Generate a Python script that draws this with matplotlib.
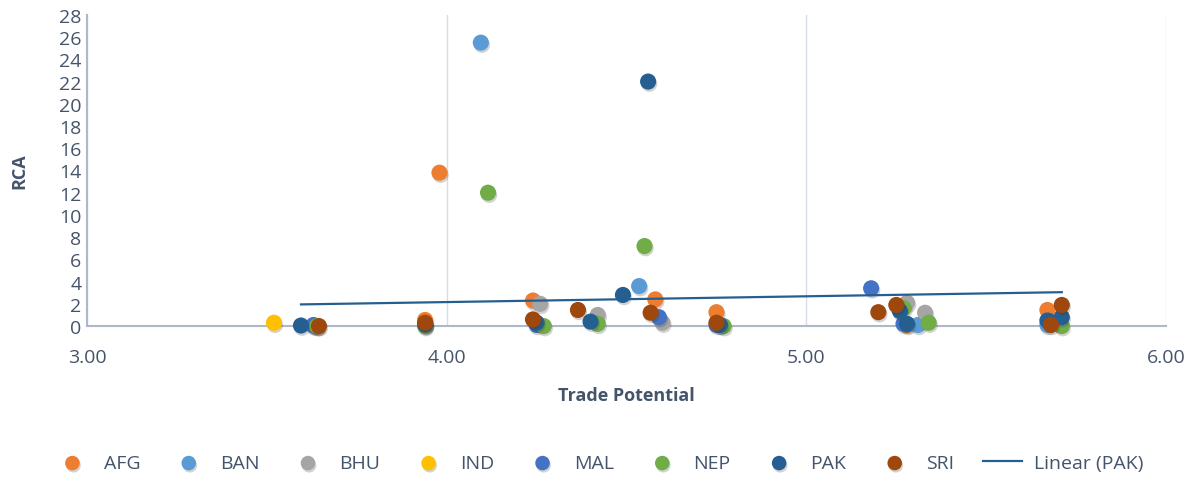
import numpy as np
import matplotlib
matplotlib.use('Agg')
import matplotlib.pyplot as plt
import matplotlib.patheffects as pe

plt.rcParams['font.family'] = ['Open Sans', 'DejaVu Sans']

# data
series = ['AFG', 'BAN', 'BHU', 'IND', 'MAL', 'NEP', 'PAK', 'SRI']
afg_x = [3.94, 3.98, 4.24, 4.58, 4.75, 5.28, 5.67]
afg_y = [0.55, 13.8, 2.3, 2.4, 1.25, 0.1, 1.45]
ban_x = [3.63, 4.095, 4.535, 5.31, 5.67]
ban_y = [0.05, 25.5, 3.6, 0.1, 0.1]
bhu_x = [3.64, 3.94, 4.26, 4.42, 4.60, 4.76, 5.28, 5.33, 5.70]
bhu_y = [0.0, 0.1, 2.0, 1.0, 0.3, 0.1, 2.1, 1.2, 0.3]
ind_x = [3.52]
ind_y = [0.3]
mal_x = [3.63, 3.94, 4.25, 4.59, 4.75, 5.18, 5.27, 5.68]
mal_y = [0.1, 0.2, 0.1, 0.8, 0.1, 3.4, 0.2, 0.4]
nep_x = [3.64, 3.94, 4.115, 4.27, 4.42, 4.55, 4.77, 5.27, 5.34, 5.71]
nep_y = [0.0, 0.0, 12.0, 0.0, 0.2, 7.2, 0.0, 1.6, 0.3, 0.0]
pak_x = [3.595, 3.94, 4.25, 4.40, 4.49, 4.56, 4.76, 5.26, 5.28, 5.67, 5.71]
pak_y = [0.05, 0.15, 0.3, 0.4, 2.8, 22.0, 0.1, 1.35, 0.2, 0.5, 0.8]
sri_x = [3.645, 3.94, 4.24, 4.365, 4.567, 4.75, 5.20, 5.25, 5.68, 5.71]
sri_y = [0.0, 0.3, 0.6, 1.45, 1.2, 0.3, 1.25, 1.9, 0.1, 1.9]

# Linear (PAK) trendline as shown on the chart
trend_slope = 0.52
trend_intercept = 0.08

colors = ['#ED7D31', '#5B9BD5', '#A5A5A5', '#FFC000',
          '#4472C4', '#70AD47', '#255E91', '#9E480E']
xs = [afg_x, ban_x, bhu_x, ind_x, mal_x, nep_x, pak_x, sri_x]
ys = [afg_y, ban_y, bhu_y, ind_y, mal_y, nep_y, pak_y, sri_y]

txt = '#44546A'
fig = plt.figure(figsize=(11.96, 4.81), dpi=100)
ax = fig.add_axes([0.0727, 0.32, 0.9023, 0.647])

shadow = [pe.SimplePatchShadow(offset=(0.8, -1.6), alpha=0.22, shadow_rgbFace='#333333'), pe.Normal()]
for name, x, y, c in zip(series, xs, ys, colors):
    ax.scatter(x, y, s=135, color=c, label=name, zorder=3, clip_on=False,
               linewidths=0, path_effects=shadow)

tx = np.array([min(pak_x), max(pak_x)])
ax.plot(tx, trend_intercept + trend_slope * tx, color='#255E91', lw=1.6,
        zorder=4, label='Linear (PAK)')

ax.set_xlim(3, 6)
ax.set_ylim(0, 28)
ax.set_xticks([3, 4, 5, 6])
ax.set_xticklabels(['3.00', '4.00', '5.00', '6.00'])
ax.set_yticks(range(0, 29, 2))
ax.tick_params(length=0, labelsize=14, colors=txt)
ax.tick_params(axis='x', pad=16)
ax.tick_params(axis='y', pad=4)
ax.grid(axis='x', color='#D6DCE5', lw=1)
ax.set_axisbelow(True)
for s in ['top', 'right']:
    ax.spines[s].set_visible(False)
for s in ['left', 'bottom']:
    ax.spines[s].set_color('#ADB9CA')
    ax.spines[s].set_linewidth(1.5)

ax.set_xlabel('Trade Potential', fontsize=13, fontweight='bold', color=txt, labelpad=14)
ax.set_ylabel('RCA', fontsize=13, fontweight='bold', color=txt, labelpad=22)

leg = fig.legend(loc='center', bbox_to_anchor=(0.5, 0.035), ncol=9, frameon=False,
                 fontsize=14, labelcolor=txt, handlelength=2.0, columnspacing=1.5,
                 handletextpad=0.6, scatterpoints=1, markerscale=0.9)

fig.savefig('out.png', dpi=100)
